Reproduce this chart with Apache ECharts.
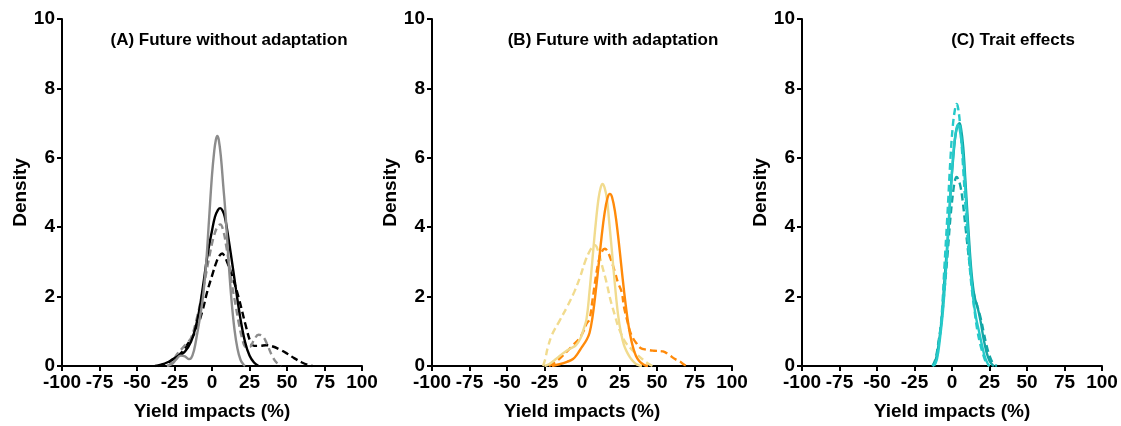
<!DOCTYPE html>
<html>
<head>
<meta charset="utf-8">
<script src="https://cdn.jsdelivr.net/npm/echarts@6/dist/echarts.min.js"></script>
<style>
  html, body { margin: 0; padding: 0; background: #fff; }
  #chart { width: 1121px; height: 426px; }
</style>
</head>
<body>
<div id="chart"></div>
<script>
// Kernel density curves of yield impacts, as [impact %, density] pairs.
const xTicks = [-100, -75, -50, -25, 0, 25, 50, 75, 100];
const yTicks = [0, 2, 4, 6, 8, 10];
const panelTitles = ['(A) Future without adaptation', '(B) Future with adaptation', '(C) Trait effects'];

// Panel A: future without adaptation
const aGraySolid = [[-30,0],[-27,0.05],[-24,0.18],[-21,0.3],[-18,0.28],[-15.5,0.2],[-14,0.22],[-12,0.45],[-10,0.9],[-8,1.4],[-6,2.0],[-4,2.9],[-2,4.2],[0,5.5],[1.5,6.2],[2.5,6.5],[3.5,6.63],[4.5,6.52],[6,6.0],[7.5,5.2],[9,4.4],[11,3.05],[13,1.9],[15,1.05],[17,0.5],[19,0.18],[21,0.04],[22,0]];
const aBlackSolid = [[-38,0],[-34,0.04],[-30,0.1],[-26,0.2],[-22,0.3],[-18,0.42],[-14,0.7],[-11,1.1],[-8.5,1.6],[-6,2.3],[-3,3.2],[0,3.9],[2,4.3],[4,4.5],[5.5,4.55],[7,4.48],[8.5,4.3],[10,3.95],[13,3.1],[16,2.2],[19,1.35],[22,0.7],[25,0.3],[28,0.1],[31,0]];
const aBlackDashed = [[-36,0],[-30,0.08],[-25,0.22],[-20,0.4],[-16.6,0.61],[-11,1.0],[-6.5,1.57],[-3.2,2.14],[0,2.6],[3,3.0],[5,3.18],[6.8,3.24],[8.5,3.15],[10.5,2.95],[13.4,2.6],[17.9,1.95],[22.4,1.18],[25.8,0.68],[28,0.58],[32,0.58],[36,0.6],[40,0.57],[45,0.48],[50,0.36],[55,0.22],[60,0.1],[64,0.03],[67,0]];
const aGrayDashed = [[-30,0],[-27,0.08],[-24,0.3],[-20,0.5],[-17,0.65],[-14,0.8],[-10,1.4],[-6,2.2],[-2,3.1],[1,3.7],[3.5,4.0],[5.5,4.08],[7.5,3.9],[9.5,3.45],[11.2,3.0],[13.5,2.3],[15.7,1.76],[18,1.2],[20.1,0.8],[22.4,0.55],[25,0.55],[28,0.75],[31,0.9],[34,0.85],[37,0.6],[40,0.3],[43,0.1],[46,0]];

// Panel B: future with adaptation
const bPaleSolid = [[-25,0],[-22,0.05],[-18,0.18],[-14,0.32],[-10,0.45],[-7,0.52],[-4,0.6],[-1,0.8],[1,1.05],[3,1.35],[5,2.14],[7,3.09],[9,4.04],[11,4.82],[12.5,5.15],[13.7,5.25],[15,5.15],[16.5,4.85],[18,4.22],[20,3.28],[22,2.32],[24,1.49],[26,0.95],[28,0.6],[30,0.4],[32,0.25],[34,0.14],[36,0.06],[38,0.02],[40,0]];
const bOrangeSolid = [[-20,0],[-15,0.05],[-10,0.12],[-6,0.2],[-3,0.35],[0,0.55],[3,0.75],[5,0.95],[7,1.41],[9,2.09],[11,2.88],[13,3.7],[15,4.39],[17,4.84],[18.6,4.96],[20,4.87],[22,4.45],[24,3.77],[26,2.97],[28,2.17],[30,1.47],[32,0.92],[34,0.54],[36,0.29],[38,0.15],[40,0.07],[42,0.02],[44,0]];
const bPaleDashed = [[-26,0],[-24.5,0.2],[-23,0.5],[-20,0.9],[-15,1.3],[-10,1.7],[-5,2.15],[-1,2.6],[2,3.0],[5,3.3],[7,3.43],[8.7,3.48],[10.5,3.35],[13,2.95],[16.4,2.4],[19,1.9],[22,1.45],[24,1.15],[26.4,0.9],[29,0.68],[33.1,0.48],[37,0.32],[41,0.17],[44,0.07],[47,0]];
const bOrangeDashed = [[-22,0],[-18,0.1],[-14,0.25],[-10,0.42],[-6,0.6],[-2,0.78],[1,1.0],[3,1.22],[5,1.35],[7,1.9],[9,2.5],[11,3.0],[13,3.28],[15.3,3.38],[17,3.3],[19,3.1],[22,2.7],[24,2.4],[26.4,2.14],[28,1.7],[29.8,1.37],[32,1.0],[34,0.8],[36.4,0.65],[39,0.52],[43,0.47],[48,0.44],[54,0.42],[58,0.32],[62,0.2],[65.3,0.13],[68,0.04],[70,0]];

// Panel C: trait effects
const cCyanDashed = [[-13,0],[-11,0.1],[-9,0.6],[-7,1.4],[-5,2.9],[-3,4.4],[-1,6.0],[0.5,6.9],[2,7.4],[3,7.55],[4,7.45],[5.5,6.9],[7,6.0],[9,4.6],[11,3.3],[13,2.3],[15,1.6],[17,1.0],[19,0.6],[21,0.3],[23,0.08],[25,0]];
const cTealSolid = [[-13,0],[-11,0.15],[-9,0.6],[-7,1.3],[-5,2.5],[-3,3.6],[-1,5.0],[1,6.1],[2.5,6.7],[4,6.95],[5,7.0],[6,6.85],[7.5,6.3],[9,5.3],[11,3.9],[13,2.7],[15,2.0],[17,1.7],[19,1.3],[21,0.8],[23,0.4],[25,0.15],[27,0.03],[28,0]];
const cCyanSolid = [[-12,0],[-10,0.2],[-8,0.8],[-6,1.6],[-4,2.8],[-2,4.2],[0,5.6],[1.5,6.4],[3,6.85],[4,6.95],[5,6.85],[6.5,6.4],[8,5.7],[10,4.3],[12,3.0],[14,2.0],[16,1.4],[18,1.0],[20,0.6],[22,0.25],[24,0.05],[25,0]];
const cTealDashed = [[-13,0],[-11,0.2],[-9,0.7],[-7,1.3],[-5,2.2],[-3,3.2],[-1,4.3],[1,5.1],[2,5.35],[3,5.45],[4,5.4],[5.5,5.2],[7,4.8],[9,4.0],[11,3.2],[13,2.5],[15,2.0],[17,1.7],[19,1.4],[21,1.0],[23,0.6],[25,0.3],[27,0.1],[29,0.02],[30,0]];

const FONT = '"Liberation Sans", Arial, sans-serif';
const panelLeft = [62, 432, 802];
const panelWidth = 300;
const titleCenters = [224, 608, 1008];

const GRAY = '#8c8c8c', BLACK = '#000000';
const PALE = '#f1db8e', ORANGE = '#ff8a0a';
const CYAN = '#26c9c9', TEAL = '#13a6a6';

function curve(data, idx, color, dashed) {
  return {
    type: 'line', xAxisIndex: idx, yAxisIndex: idx, data: data,
    smooth: 0.4, showSymbol: false, symbol: 'none', silent: true,
    lineStyle: { color: color, width: 2.4, type: dashed ? [7, 4] : 'solid' },
    z: 3
  };
}

const grids = panelLeft.map(l => ({ left: l, width: panelWidth, top: 19, height: 349 }));

const xAxes = panelLeft.map((_, i) => ({
  type: 'value', gridIndex: i, min: xTicks[0], max: xTicks[xTicks.length - 1], interval: 25,
  name: 'Yield impacts (%)', nameLocation: 'middle', nameGap: 36,
  nameTextStyle: { fontFamily: FONT, fontWeight: 'bold', fontSize: 19, color: '#000' },
  axisLine: { show: true, onZero: false, lineStyle: { color: '#000', width: 2 } },
  axisTick: { show: true, inside: false, length: 5, lineStyle: { color: '#000', width: 2 } },
  axisLabel: { fontFamily: FONT, fontWeight: 'bold', fontSize: 19, color: '#000', margin: 7 },
  splitLine: { show: false }
}));

const yAxes = panelLeft.map((_, i) => ({
  type: 'value', gridIndex: i, min: yTicks[0], max: yTicks[yTicks.length - 1], interval: 2,
  name: 'Density', nameLocation: 'middle', nameGap: 32,
  nameTextStyle: { fontFamily: FONT, fontWeight: 'bold', fontSize: 19, color: '#000' },
  axisLine: { show: true, onZero: false, lineStyle: { color: '#000', width: 2 } },
  axisTick: { show: true, inside: false, length: 5, lineStyle: { color: '#000', width: 2 } },
  axisLabel: { fontFamily: FONT, fontWeight: 'bold', fontSize: 19, color: '#000', margin: 7 },
  splitLine: { show: false }
}));

const titles = panelTitles.map((t, i) => ({
  text: t, left: titleCenters[i], top: 27, textAlign: 'center',
  textStyle: { fontFamily: FONT, fontWeight: 'bold', fontSize: 17, color: '#000' }
}));

const series = [
  curve(aBlackDashed, 0, BLACK, true),
  curve(aGrayDashed, 0, GRAY, true),
  curve(aBlackSolid, 0, BLACK, false),
  curve(aGraySolid, 0, GRAY, false),

  curve(bPaleDashed, 1, PALE, true),
  curve(bOrangeDashed, 1, ORANGE, true),
  curve(bPaleSolid, 1, PALE, false),
  curve(bOrangeSolid, 1, ORANGE, false),

  curve(cTealDashed, 2, TEAL, true),
  curve(cTealSolid, 2, TEAL, false),
  curve(cCyanSolid, 2, CYAN, false),
  curve(cCyanDashed, 2, CYAN, true)
];

const chart = echarts.init(document.getElementById('chart'), null, { renderer: 'canvas' });
chart.setOption({
  backgroundColor: '#ffffff',
  animation: false,
  title: titles,
  grid: grids,
  xAxis: xAxes,
  yAxis: yAxes,
  series: series
});
</script>
</body>
</html>
